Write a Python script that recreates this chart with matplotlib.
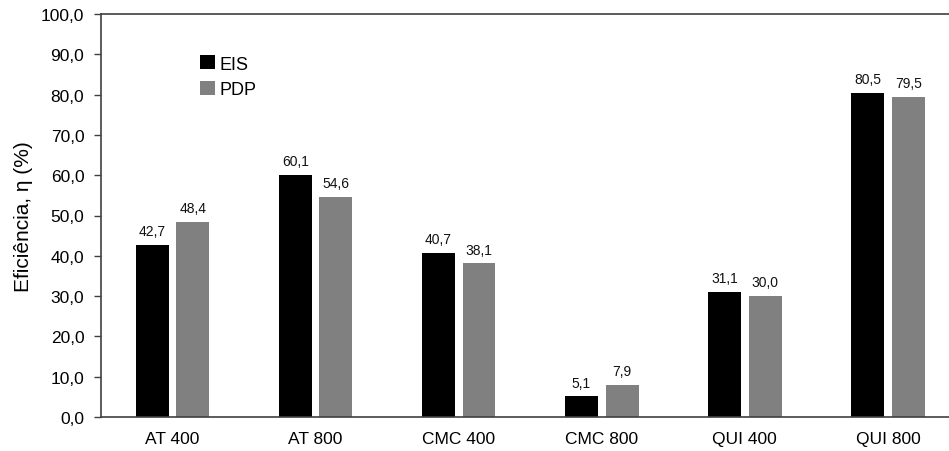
import matplotlib
matplotlib.use("Agg")
import matplotlib.pyplot as plt
import numpy as np
from matplotlib.patches import Patch

categories = ["AT 400", "AT 800", "CMC 400", "CMC 800", "QUI 400", "QUI 800"]
eis = [42.7, 60.1, 40.7, 5.1, 31.1, 80.5]
pdp = [48.4, 54.6, 38.1, 7.9, 30.0, 79.5]
series_names = ["EIS", "PDP"]
y_ticks = np.arange(0, 101, 10)

plt.rcParams["font.family"] = ["Liberation Sans", "DejaVu Sans"]

W, H = 949, 452
fig = plt.figure(figsize=(W / 100, H / 100), dpi=100)
left_px, right_px, top_px, bottom_px = 101, 959.5, 15, 418
ax = fig.add_axes([left_px / W, 1 - bottom_px / H,
                   (right_px - left_px) / W, (bottom_px - top_px) / H])

x = np.arange(len(categories))
width = 0.23
off = 0.142
b1 = ax.bar(x - off, eis, width, color="#000000", label=series_names[0])
b2 = ax.bar(x + off, pdp, width, color="#808080", label=series_names[1])

def fmt(v):
    return f"{v:.1f}".replace(".", ",")

for bars, vals in ((b1, eis), (b2, pdp)):
    for r, v in zip(bars, vals):
        ax.annotate(fmt(v), (r.get_x() + r.get_width() / 2, v),
                    xytext=(0, 5), textcoords="offset points",
                    ha="center", va="bottom", fontsize=10, color="#111111")

ax.set_xlim(-0.5, 5.5)
ax.set_ylim(0, 100)
ax.set_yticks(y_ticks)
ax.set_yticklabels([fmt(v) for v in y_ticks], fontsize=12.5)
ax.set_xticks(x)
ax.set_xticklabels(categories, fontsize=12.5)
ax.tick_params(axis="x", length=0, pad=10)
ax.tick_params(axis="y", length=5, width=1, color="#404040", pad=7)
ax.set_ylabel("Eficiência, η (%)", fontsize=15, labelpad=6)

for s in ax.spines.values():
    s.set_color("#404040")
    s.set_linewidth(1.2)

handles = [Patch(facecolor="#000000", label=series_names[0]),
           Patch(facecolor="#808080", label=series_names[1])]
ax.legend(handles=handles, loc="upper left", bbox_to_anchor=(0.107, 0.915),
          frameon=False, fontsize=13, handlelength=0.8, handleheight=0.8,
          handletextpad=0.25, labelspacing=0.45, borderaxespad=0)

fig.savefig("out.png", dpi=100)
